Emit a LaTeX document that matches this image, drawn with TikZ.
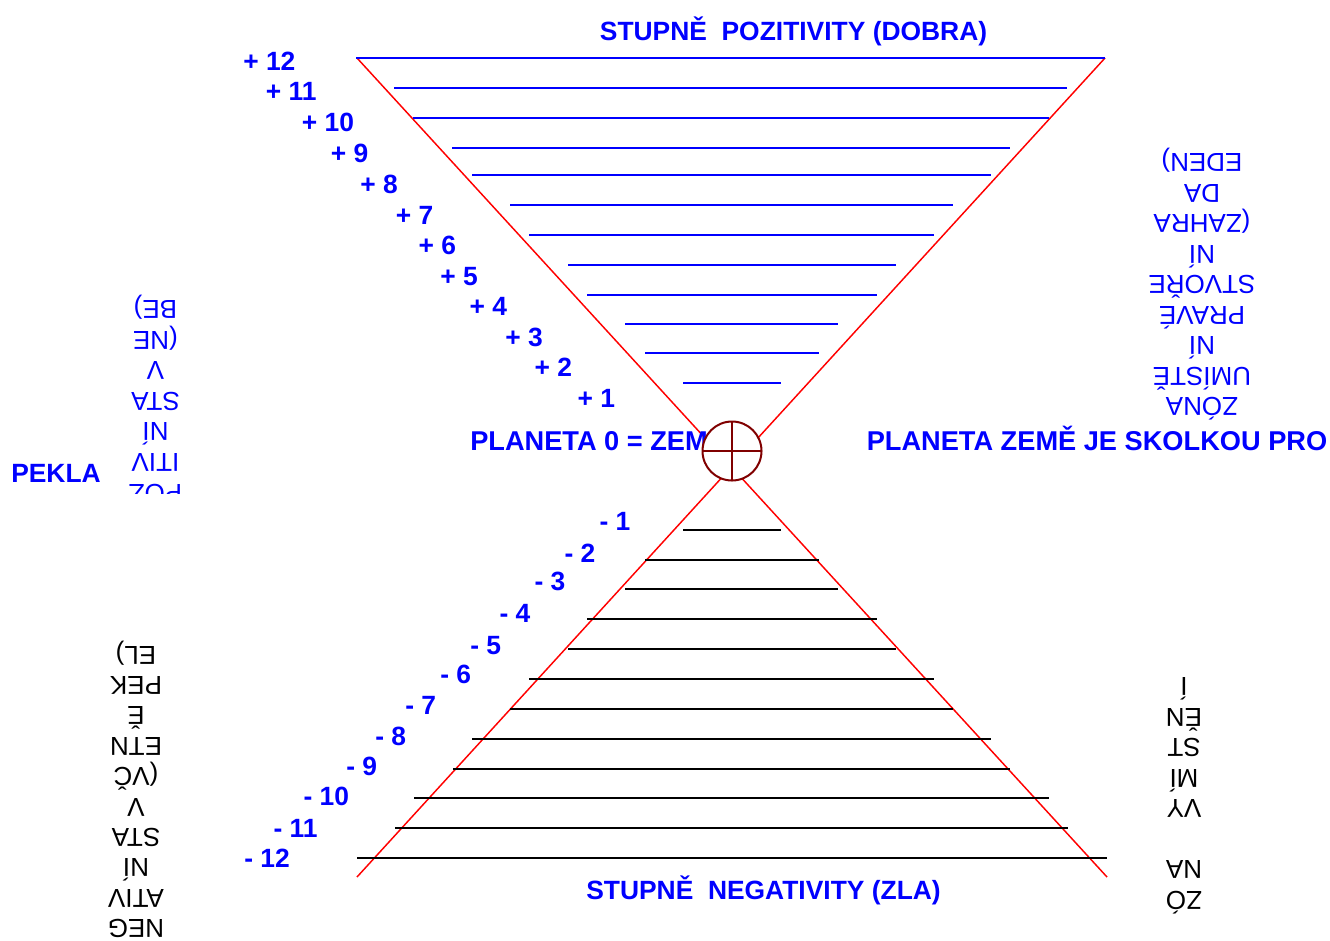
\documentclass[tikz,border=0pt]{standalone}
\usepackage{fontspec}
\setmainfont{Liberation Sans}
\definecolor{darkred}{RGB}{128,0,0}
\begin{document}
\begin{tikzpicture}[x=0.75pt,y=-0.75pt,
  lbl/.style={font=\bfseries\fontsize{19.8}{23}\selectfont, text=blue, inner sep=0pt, anchor=base west},
  biglbl/.style={lbl, font=\bfseries\fontsize{20.4}{24}\selectfont},
  rot/.style={font=\fontsize{19.5}{23}\selectfont, inner sep=0pt, anchor=base, rotate=180},
  redline/.style={draw=red, line width=1.1pt},
  blueline/.style={draw=blue, line width=1.2pt},
  blackline/.style={draw=black, line width=1.3pt},
  earthstyle/.style={circle, draw=darkred, fill=white, line width=1.5pt, inner sep=0pt, outer sep=0pt, minimum size=44.25pt}]
\useasboundingbox (0,0) rectangle (1330,940);
\begin{scope}
\clip (0,0) rectangle (1330,940);

% red X
\coordinate (tl) at (357,58);
\coordinate (br) at (1107,877);
\coordinate (tr) at (1105,58);
\coordinate (bl) at (357,877);
\draw[redline] (tl) -- (br);
\draw[redline] (tr) -- (bl);

% upper blue levels
\foreach \y/\a/\b in {58/356/1105, 88/394/1067, 118/413/1049, 148/452/1010, 175/472/991, 205/510/953, 235/529/934, 265/568/896, 295/587/877, 324/625/838, 353/645/819, 383/683/781}
  \draw[blueline] (\a,\y) -- (\b,\y);

% lower black levels
\foreach \y/\a/\b in {530/683/781, 560/645/819, 589/625/838, 619/587/877, 649/568/896, 679/529/934, 709/510/953, 739/472/991, 769/453/1010, 798/414/1049, 828/395/1068, 858/357/1107}
  \draw[blackline] (\a,\y) -- (\b,\y);

% titles
\node[lbl, anchor=base] (toptitle) at (793.5,40.5) {STUPNĚ\ \ POZITIVITY (DOBRA)};
\node[lbl, anchor=base] (bottitle) at (763.5,899.5) {STUPNĚ\ \ NEGATIVITY (ZLA)};

% positive labels
\foreach \i/\x/\y in {12/243/70.7, 11/265.7/100.7, 10/301.7/131.7, 9/330.7/162.3, 8/360/193, 7/395.7/224, 6/418.3/254, 5/440/285, 4/469.3/315.7, 3/505/346.7, 2/534.3/376.3, 1/577.3/407.3}
  \node[lbl] (p\i) at (\x,\y) {+ \i};

% negative labels
\foreach \i/\x/\y in {1/599.3/530.7, 2/564.3/562.3, 3/534.3/590.7, 4/499.3/622.3, 5/470/654, 6/440/683, 7/405/714, 8/375/745.7, 9/346/775.7, 10/303.3/805.7, 11/273.3/837.3, 12/244/867.3}
  \node[lbl] (m\i) at (\x,\y) {- \i};

% planet labels
\node[biglbl] (planet0) at (470,450) {PLANETA 0 = ZEM};
\node[biglbl] (planetz) at (866.5,450.5) {PLANETA ZEMĚ JE SKOLKOU PRO};
\node[lbl] (pekla) at (11,482) {PEKLA};

% earth symbol
\node[earthstyle] (earth) at (732,451) {};
\draw[draw=darkred, line width=1.5pt] (earth.west) -- (earth.east);
\draw[draw=darkred, line width=1.5pt] (earth.north) -- (earth.south);

% rotated texts: left upper (blue), clipped
\begin{scope}
\clip (90,280) rectangle (220,493);
\foreach \t [count=\k from 0] in {{BE)}, {(NE}, {V}, {STA}, {NÍ}, {ITIV}, {POZ}}
  \node[rot, text=blue] (lu\k) at (155.5,{300.5+30.6*\k}) {\t};
\end{scope}

% left lower (black)
\foreach \t [count=\k from 0] in {{EL)}, {PEK}, {Ě}, {ETN}, {(VČ}, {V}, {STA}, {NÍ}, {ATIV}, {NEG}}
  \node[rot] (ll\k) at (136,{646+30.4*\k}) {\t};

% right upper (blue)
\foreach \t [count=\k from 0] in {{EDEN)}, {DA}, {(ZAHRA}, {NÍ}, {STVOŘE}, {PRAVÉ}, {NÍ}, {UMÍSTĚ}, {ZÓNA}}
  \node[rot, text=blue] (ru\k) at (1202,{153.5+30.5*\k}) {\t};

% right lower (black)
\foreach \t/\y [count=\k from 0] in {Í/677.5, ĚN/708, ST/738.5, MÍ/769, VY/799.5, NA/860.5, ZÓ/891}
  \node[rot] (rl\k) at (1184,\y) {\t};
\end{scope}
\end{tikzpicture}
\end{document}
